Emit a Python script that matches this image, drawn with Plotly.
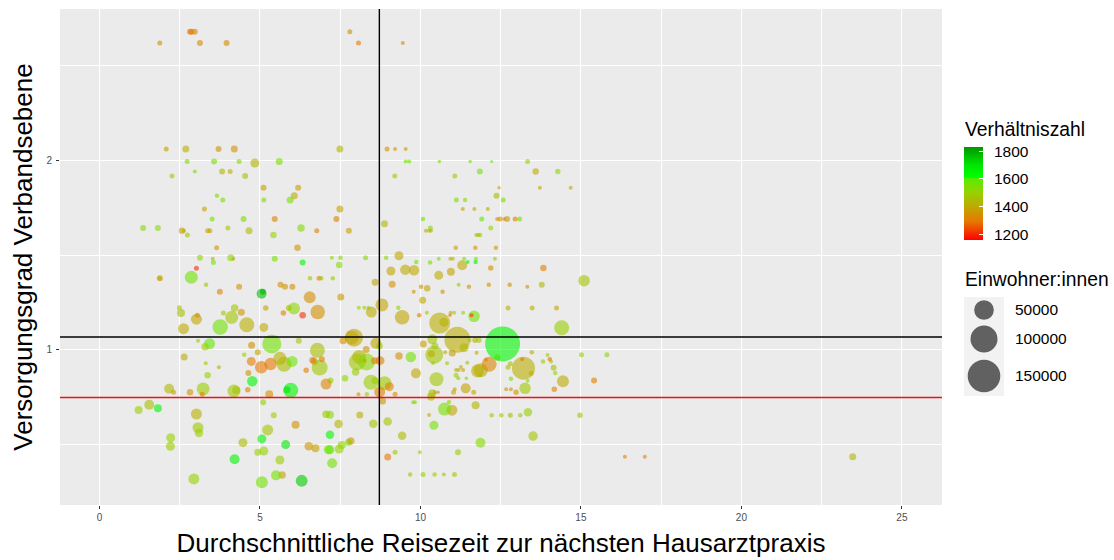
import plotly.graph_objects as go
import numpy as np

x_time = [
1.88,2.82,2.87,2.97,3.13,3.96,7.80,8.07,9.45,2.08,
2.69,3.71,4.20,7.49,8.96,9.21,9.54,2.73,3.57,4.35,
4.84,5.60,9.54,9.65,10.59,11.55,12.22,13.34,2.97,3.82,
4.07,11.85,14.28,13.59,2.26,4.54,9.20,11.07,5.11,6.19,
12.45,13.72,14.68,6.07,5.94,3.66,3.84,5.12,11.12,11.39,
12.37,12.58,3.27,7.49,11.32,11.68,12.10,3.51,4.49,5.46,
7.38,10.08,11.91,12.39,12.48,12.61,12.70,12.95,13.09,8.88,
10.31,10.17,10.27,10.33,12.19,1.36,1.82,4.00,6.28,2.57,
2.63,3.37,3.44,4.66,6.77,7.77,2.74,5.42,11.74,11.81,
11.86,3.65,6.17,11.10,11.71,12.35,3.13,3.53,4.09,4.17,
5.46,7.24,7.51,8.29,8.93,9.33,10.57,10.93,11.01,11.36,
11.73,12.32,9.87,10.30,6.33,11.47,11.72,3.55,7.47,9.08,
9.53,9.80,10.57,10.95,11.30,6.56,6.84,6.91,7.27,8.59,
9.12,10.02,10.21,9.79,10.69,11.19,11.51,10.07,12.19,13.83,
12.13,12.78,13.33,13.78,12.73,13.48,14.24,15.10,8.08,8.25,
8.38,9.31,10.20,9.96,10.94,11.05,11.33,10.92,11.67,11.59,
10.60,10.73,11.15,10.37,10.09,10.43,10.45,10.34,10.99,10.77,
11.36,11.53,11.70,11.82,9.70,9.33,9.86,10.50,10.83,10.39,
11.46,11.75,11.11,11.18,11.43,11.11,11.19,11.26,11.33,11.78,
11.88,12.14,12.04,12.40,12.56,11.86,13.21,13.17,12.80,12.73,
12.82,13.47,13.45,13.34,13.26,12.98,12.67,12.82,13.96,13.82,
14.03,14.07,14.15,14.20,14.44,14.17,15.41,15.02,15.81,14.40,
11.72,10.98,10.75,10.89,10.42,12.22,12.52,12.80,13.11,13.35,
14.97,13.51,11.87,11.17,10.37,10.45,10.55,11.03,11.07,11.41,
11.66,10.33,9.77,9.83,9.21,8.88,9.03,8.73,8.82,8.46,
8.58,8.07,8.33,7.65,7.20,7.06,6.86,6.79,6.70,6.64,
6.93,6.44,7.86,7.93,7.59,8.61,8.72,8.31,8.09,8.03,
8.32,7.98,8.27,8.57,8.74,7.52,6.55,6.80,6.33,8.47,
8.80,9.43,1.88,1.88,3.02,2.86,3.32,3.75,4.35,5.64,
5.78,6.01,5.05,5.09,2.49,2.54,3.05,3.02,2.62,3.86,
4.21,4.42,4.12,3.76,4.59,5.12,5.18,5.73,5.90,6.06,
3.07,3.43,3.29,2.64,4.74,4.93,4.51,5.37,6.21,3.31,
3.72,3.37,4.64,4.76,4.73,5.04,5.33,5.62,5.75,6.00,
2.17,2.31,2.82,3.23,3.20,4.19,4.26,4.62,5.29,5.96,
5.84,5.10,1.55,1.22,1.82,3.02,3.07,3.10,2.22,2.21,
2.94,4.47,4.21,5.06,5.24,5.43,4.93,5.12,5.80,5.62,
5.69,5.50,5.06,6.30,6.11,6.52,6.73,7.06,7.18,7.18,
7.13,7.18,7.47,7.55,7.25,7.76,7.83,7.45,8.11,8.53,
8.98,9.43,8.98,9.21,9.98,11.06,9.68,10.08,10.44,10.73,
10.27,16.37,16.99,23.47,
]

y_grad = [
2.616,2.675,2.675,2.675,2.616,2.616,2.675,2.616,2.616,2.058,
2.058,2.058,2.058,2.058,2.058,2.058,2.058,1.992,1.992,1.992,
1.984,1.992,1.992,1.992,1.992,1.992,1.992,1.992,1.94,1.94,
1.94,1.94,1.94,1.94,1.916,1.916,1.916,1.916,1.854,1.854,
1.854,1.854,1.854,1.812,1.789,1.812,1.789,1.789,1.789,1.789,
1.812,1.789,1.742,1.742,1.742,1.742,1.742,1.69,1.69,1.69,
1.69,1.69,1.69,1.69,1.69,1.69,1.69,1.69,1.69,1.665,
1.642,1.628,1.628,1.628,1.642,1.642,1.642,1.642,1.642,1.628,
1.628,1.628,1.628,1.628,1.628,1.628,1.605,1.605,1.605,1.605,
1.605,1.538,1.538,1.538,1.538,1.538,1.486,1.48,1.486,1.48,
1.48,1.486,1.486,1.486,1.486,1.496,1.48,1.48,1.48,1.48,
1.48,1.48,1.463,1.46,1.46,1.463,1.463,1.46,1.447,1.416,
1.423,1.42,1.393,1.412,1.446,1.377,1.377,1.377,1.377,1.356,
1.346,1.333,1.325,1.307,1.307,1.344,1.333,1.262,1.432,1.432,
1.344,1.344,1.333,1.344,1.221,1.221,1.221,1.365,1.223,1.223,
1.223,1.223,1.196,1.183,1.196,1.196,1.196,1.183,1.177,1.183,
1.142,1.146,1.054,1.056,1.032,.975,1.021,.98,.984,.988,
1.012,1.051,1.051,1.051,.963,.968,.877,.846,.93,.932,
.933,.986,.867,.851,.851,.895,.895,.91,.895,.89,
.893,.925,.949,.961,1.032,.867,.904,.951,.928,.909,
.849,.988,.877,.838,.798,.777,.793,.793,.974,.94,
.951,.94,.907,.879,.835,.793,.84,.975,.975,1.117,
.709,.683,.689,.726,.604,.656,.656,.656,.656,.672,
.656,.547,.512,.462,.772,.777,.777,.777,.793,.798,
.777,.754,.725,.725,.767,.825,.807,.779,.732,.83,
.84,.767,.767,.851,.84,.821,.907,.998,.94,.946,
.951,.893,1.065,1.065,1.049,1.035,1.021,1.002,.963,.937,
.937,.884,.944,.944,.944,1.279,1.277,1.2,1.183,1.2,
1.237,1.172,1.377,1.377,1.43,1.383,1.344,1.307,1.333,1.344,
1.333,1.333,1.296,1.307,1.223,1.195,1.183,1.162,1.112,1.195,
1.221,1.198,1.172,1.121,1.133,1.119,1.221,1.195,1.221,1.219,
1.049,1.033,1.017,.963,1.025,.988,.975,1.032,1.049,.93,
.909,.867,.879,.835,.94,.909,.926,.956,.925,.94,
.796,.777,.777,.795,.767,.784,.788,.791,.767,.788,
.791,.725,.712,.684,.693,.663,.591,.563,.538,.493,
.321,.512,.425,.532,.579,.656,.462,.468,.502,.421,
.342,.34,.304,.311,.607,.493,.483,.662,.659,.554,
.475,.475,.479,.5,.404,.514,.521,.611,.658,.612,
.623,.549,.437,.462,.462,.344,.344,.344,.344,.344,
.658,.438,.438,.438,
]

einwohner = [
1440,2560,2560,2560,2560,2560,1440,1440,640,1440,
4000,2560,4000,4000,1440,640,640,1440,2560,1440,
7840,4000,640,640,360,360,200,1440,640,2560,
1440,2560,1960,3240,1440,2560,1440,1440,2560,2560,
360,640,640,4000,4000,1000,1440,1440,1440,1000,
2560,1440,1440,4000,640,640,640,1440,2560,2560,
2560,1000,1440,640,1440,640,2560,1440,1440,4000,
1440,640,640,640,1440,2560,2560,1440,4840,3240,
640,1440,1440,4000,1440,2560,1440,3240,640,640,
1000,1440,3240,1000,1000,1000,2560,640,4000,640,
2560,640,1000,1440,1000,7840,640,640,640,640,
640,640,1000,1000,2560,640,1000,1440,3240,7840,
11560,11560,7840,5760,10240,1000,1440,1000,1000,4000,
4000,1000,3240,640,1000,640,1000,4000,1960,3240,
1000,1000,640,2560,1440,1440,1440,14400,640,640,
640,1000,640,1000,640,640,640,360,14400,640,
58000,7840,92000,10240,4000,41000,4000,4000,4000,640,
7840,640,1960,1960,11560,4840,10240,23000,640,640,
640,640,1440,640,360,640,640,640,640,19400,
23000,27000,640,3240,174000,640,71000,640,1440,1440,
1000,1000,1440,640,14400,1960,640,640,640,1000,
1000,640,2560,1000,16000,1960,2560,1440,1440,27000,
5760,13000,19400,1000,7840,1000,1000,1440,1000,6760,
1960,9000,10240,2560,5760,640,360,1440,640,10240,
1440,5760,640,640,1440,23000,7840,13000,4000,27000,
4000,640,1000,3240,2560,13000,31000,27000,4000,3240,
2560,1960,23000,41000,4000,13000,4000,4000,23000,36000,
36000,4840,640,4000,7840,4000,16000,25000,3240,13000,
19400,25000,2560,1000,1440,19400,1000,2560,2560,2560,
2560,2560,10240,2560,1440,5760,1440,13000,13000,1440,
4840,4000,19400,29000,27000,7840,1960,1960,2560,16000,
640,13000,4840,4000,4000,2560,1000,46000,2560,640,
640,3240,2560,11560,7840,17600,17600,19400,27000,13000,
10240,1440,3240,19400,1440,19400,5760,1960,5760,27000,
4000,2560,10240,5760,5760,13000,13000,6760,7840,7840,
13000,7840,10240,7840,13000,2560,4000,7840,7840,7840,
4840,10240,16000,16000,5760,6760,5760,4840,5760,6760,
7840,7840,7840,5760,10240,4000,4840,6760,4000,6760,
6760,6760,4000,1440,640,1440,1000,1440,1000,640,
640,640,640,4000,
]

verhaeltnis = [
1330,1290,1290,1330,1330,1330,1330,1290,1330,1370,
1410,1350,1350,1430,1350,1360,1360,1540,1550,1540,
1430,1550,1560,1560,1560,1560,1560,1510,1540,1430,
1400,1570,1530,1400,1470,1470,1470,1470,1370,1370,
1380,1390,1400,1400,1550,1540,1540,1540,1540,1540,
1440,1550,1380,1390,1380,1380,1390,1560,1540,1310,
1310,1570,1590,1350,1350,1350,1350,1310,1550,1430,
1540,1430,1430,1430,1510,1530,1530,1470,1540,1380,
1390,1390,1390,1440,1300,1380,1470,1500,1420,1420,
1500,1350,1350,1370,1350,1360,1510,1410,1520,1420,
1550,1520,1530,1530,1530,1390,1550,1400,1430,1560,
1560,1460,1560,1560,1630,1630,1630,1570,1530,1390,
1400,1400,1400,1380,1400,1470,1320,1470,1480,1390,
1350,1350,1390,1350,1350,1480,1350,1400,1340,1310,
1340,1330,1350,1430,1420,1400,1390,1470,1490,1500,
1500,1510,1480,1300,1400,1480,1490,1300,1560,1215,
1410,1420,1410,1470,1370,1470,1470,1410,1370,1400,
1440,1480,1400,1470,1560,1340,1390,1470,1470,1480,
1450,1390,1490,1540,1540,1400,1400,1400,1390,1400,
1420,1320,1300,1510,1640,1420,1410,1290,1460,1440,
1540,1400,1410,1530,1480,1350,1350,1350,1490,1480,
1280,1470,1440,1510,1400,1310,1310,1500,1510,1490,
1420,1390,1550,1500,1560,1490,1490,1440,1490,1490,
1490,1470,1530,1490,1450,1400,1350,1390,1380,1380,
1370,1460,1510,1540,1340,1480,1310,1300,1350,1490,
1490,1340,1500,1520,1510,1320,1480,1450,1400,1280,
1300,1300,1400,1390,1340,1390,1470,1340,1420,1470,
1520,1490,1380,1300,1310,1360,1340,1340,1205,1400,
1390,1390,1350,1420,1205,1560,1470,1320,1350,1350,
1350,1340,1760,1780,1470,1450,1290,1390,1400,1470,
1470,1350,1470,1560,1410,1400,1380,1310,1420,1510,
1480,1590,1490,1400,1340,1390,1500,1560,1470,1470,
1400,1500,1340,1640,1300,1290,1290,1410,1440,1570,
1430,1390,1350,1490,1300,1480,1450,1310,1340,1640,
1700,1500,1450,1490,1640,1420,1480,1490,1500,1490,
1500,1440,1640,1630,1470,1490,1500,1500,1690,1490,
1380,1550,1560,1740,1340,1350,1380,1470,1520,1630,
1570,1590,1500,1500,1560,1560,1370,1430,1420,1470,
1470,1440,1290,1470,1490,1480,1480,1490,1480,1480,
1400,1310,1310,1430,
]

ref_x = [8.72]
ref_y_black = [1.068]
ref_y_red = [0.75]
size_breaks = [50000, 100000, 150000]
size_key_pos = [86, 57, 20]
size_labels = ["50000", "100000", "150000"]
ratio_ticks = [1200, 1400, 1600, 1800]
ratio_min, ratio_max = 1157, 1829
stops = [1157, 1290, 1400, 1500, 1600, 1610, 1700, 1829]
stop_colors = ["rgb(255,0,0)", "rgb(230,120,0)", "rgb(190,170,0)", "rgb(150,210,0)",
               "rgb(90,235,0)", "rgb(0,255,0)", "rgb(0,230,0)", "rgb(0,150,0)"]


def diam(p):
    return 2 + 2.5 * np.sqrt(np.asarray(p, dtype=float) / 1000)


colorscale = [[(s - ratio_min) / (ratio_max - ratio_min), c] for s, c in zip(stops, stop_colors)]
FONT = "Liberation Sans"
W, H = 1114, 560
L, R, T, B = 60, 942, 9, 505
PW, PH = W - L, B - T
BAR_TOP, BAR_LEN = 147, 93


def px(v):
    return (v - L) / PW


def py(v):
    return (B - v) / PH


fig = go.Figure()
fig.add_trace(go.Scatter(
    x=x_time, y=y_grad, mode="markers", hoverinfo="skip", showlegend=False,
    marker=dict(size=diam(einwohner), sizemode="diameter", color=verhaeltnis,
                colorscale=colorscale, cmin=ratio_min, cmax=ratio_max, opacity=0.6,
                line=dict(width=0),
                colorbar=dict(x=px(964), xref="paper", xanchor="left",
                              y=py(BAR_TOP), yref="paper", yanchor="top",
                              lenmode="pixels", len=BAR_LEN, thickness=19, thicknessmode="pixels",
                              xpad=0, ypad=0, outlinewidth=0, tickvals=ratio_ticks,
                              ticks="inside", ticklen=4, tickcolor="white", tickwidth=1,
                              showticklabels=False)),
))
fig.add_trace(go.Scatter(
    x=[0, 0, 0], y=size_key_pos, xaxis="x2", yaxis="y2", mode="markers",
    hoverinfo="skip", showlegend=False,
    marker=dict(size=diam(size_breaks), color="black", opacity=0.6, line=dict(width=0)),
))

shapes = [
    dict(type="rect", xref="x2 domain", yref="y2 domain", x0=0, x1=1, y0=0, y1=1,
         fillcolor="#f2f2f2", line=dict(width=0), layer="below"),
    dict(type="line", xref="x domain", yref="y", x0=0, x1=1, y0=ref_y_black[0], y1=ref_y_black[0],
         line=dict(color="black", width=1.4)),
    dict(type="line", xref="x domain", yref="y", x0=0, x1=1, y0=ref_y_red[0], y1=ref_y_red[0],
         line=dict(color="#f01010", width=1.4)),
    dict(type="line", xref="x", yref="y domain", x0=ref_x[0], x1=ref_x[0], y0=0, y1=1,
         line=dict(color="black", width=1.4)),
]

annotations = [
    dict(text="Verhältniszahl", x=px(962.5), y=py(129), xref="paper", yref="paper",
         xanchor="left", yanchor="middle", showarrow=False,
         font=dict(family=FONT, size=19.3, color="black")),
    dict(text="Einwohner:innen", x=px(962.5), y=py(279), xref="paper", yref="paper",
         xanchor="left", yanchor="middle", showarrow=False,
         font=dict(family=FONT, size=19.3, color="black")),
]
for t in ratio_ticks:
    tick_py = BAR_TOP + (ratio_max - t) / (ratio_max - ratio_min) * BAR_LEN
    annotations.append(dict(text=str(t), x=px(992), y=py(tick_py), xref="paper", yref="paper",
                            xanchor="left", yanchor="middle", showarrow=False,
                            font=dict(family=FONT, size=15.5, color="black")))
for lab, pos in zip(size_labels, size_key_pos):
    annotations.append(dict(text=lab, x=px(1013), y=pos, xref="paper", yref="y2",
                            xanchor="left", yanchor="middle", showarrow=False,
                            font=dict(family=FONT, size=15.5, color="black")))

fig.update_layout(
    width=W, height=H, autosize=False,
    margin=dict(l=L, r=0, t=T, b=H - B, pad=0),
    paper_bgcolor="white", plot_bgcolor="#ebebeb",
    font=dict(family=FONT),
    shapes=shapes, annotations=annotations,
    xaxis=dict(domain=[0, (R - L) / PW], range=[-1.23, 26.25], tick0=0, dtick=5,
               showgrid=True, gridcolor="white", gridwidth=1.3, zeroline=False,
               ticks="outside", ticklen=3, tickcolor="#333333", tickwidth=1,
               tickfont=dict(family=FONT, size=10, color="#4d4d4d"),
               minor=dict(dtick=2.5, tick0=0, showgrid=True, gridcolor="white", gridwidth=0.7, ticks=""),
               title=dict(text="Durchschnittliche Reisezeit zur nächsten Hausarztpraxis",
                          font=dict(family=FONT, size=26, color="black"), standoff=11)),
    yaxis=dict(range=[0.184, 2.795], tick0=0, dtick=1, tickvals=[1, 2],
               showgrid=True, gridcolor="white", gridwidth=1.3, zeroline=False,
               ticks="outside", ticklen=3, tickcolor="#333333", tickwidth=1, ticklabelstandoff=2,
               tickfont=dict(family=FONT, size=10, color="#4d4d4d"),
               minor=dict(tickvals=[0.5, 1.5, 2.5], showgrid=True, gridcolor="white", gridwidth=0.7, ticks=""),
               title=dict(text="Versorgungsgrad Verbandsebene",
                          font=dict(family=FONT, size=26, color="black"), standoff=6)),
    xaxis2=dict(domain=[px(964), px(1004)], range=[-1, 1], visible=False, anchor="y2"),
    yaxis2=dict(domain=[py(396), py(297)], range=[0, 99], visible=False, anchor="x2"),
)
fig.write_html("out.html", config=dict(displayModeBar=False),
               post_script="document.body.style.margin='0';document.body.style.overflow='hidden';")
